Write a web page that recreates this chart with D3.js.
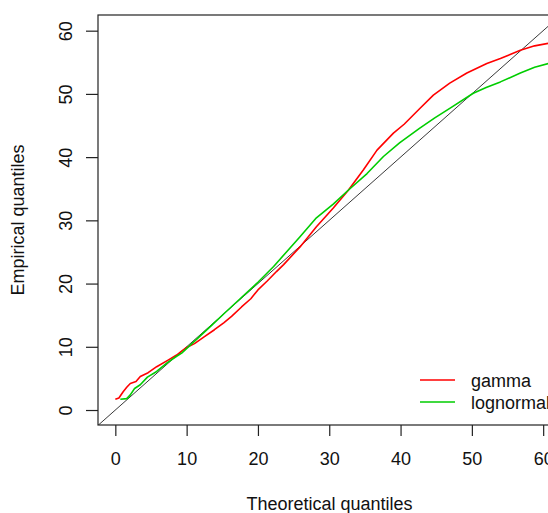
<!DOCTYPE html>
<html>
<head>
<meta charset="utf-8">
<script src="https://cdn.jsdelivr.net/npm/d3@7"></script>
<style>
  html, body { margin: 0; padding: 0; background: #fff; }
  svg { display: block; font-family: "Liberation Sans", Arial, sans-serif; }
</style>
</head>
<body>
<svg id="chart" width="548" height="513"></svg>
<script>
// Q-Q comparison: theoretical vs empirical quantiles for two fitted distributions
const seriesNames = ["gamma", "lognormal"];
const seriesColors = ["#ff0000", "#00cd00"];

// [theoretical, empirical] pairs
const gammaQ = [
  [0.0, 1.7], [0.5, 1.9], [1.1, 2.9], [1.6, 3.6], [2.1, 4.2], [2.9, 4.5], [3.5, 5.3],
  [4.6, 5.9], [5.8, 6.85], [7.4, 7.9], [8.6, 8.7], [9.3, 9.3], [10.0, 9.9], [11.1, 10.5],
  [12.5, 11.6], [13.9, 12.7], [15.2, 13.8], [16.3, 14.8], [17.7, 16.3], [19.0, 17.6],
  [20.0, 19.0], [21.3, 20.4], [22.6, 21.9], [23.6, 23.0], [25.9, 25.8], [28.2, 29.0],
  [30.6, 32.0], [32.7, 34.8], [34.8, 38.0], [36.7, 41.1], [39.0, 43.8], [40.5, 45.2],
  [42.7, 47.7], [44.6, 49.8], [46.9, 51.7], [49.3, 53.3], [52.1, 54.8], [54.0, 55.6],
  [56.8, 56.9], [58.8, 57.6], [60.7, 58.0], [62.5, 58.3]
];
const lognormalQ = [
  [0.7, 1.7], [1.6, 1.8], [2.1, 2.4], [2.7, 3.4], [3.5, 4.0], [4.5, 5.2], [5.8, 6.1],
  [7.3, 7.5], [8.6, 8.5], [9.3, 9.0], [11.5, 11.3], [13.5, 13.4], [15.3, 15.3],
  [17.5, 17.6], [20.0, 20.2], [22.2, 22.7], [24.0, 25.0], [25.9, 27.4], [28.2, 30.4],
  [30.6, 32.6], [32.7, 34.8], [35.3, 37.4], [37.6, 40.1], [39.9, 42.3], [42.7, 44.6],
  [44.8, 46.2], [46.9, 47.7], [50.2, 50.1], [52.0, 51.0], [54.0, 51.9], [56.8, 53.3],
  [58.8, 54.2], [60.7, 54.8], [62.5, 55.2]
];
const xTicks = [0, 10, 20, 30, 40, 50, 60];
const yTicks = [0, 10, 20, 30, 40, 50, 60];

const svg = d3.select("#chart");
const box = { left: 98, top: 15, right: 561, bottom: 425 };

const x = d3.scaleLinear().domain([-2.43, 62.5]).range([box.left, box.right]);
const y = d3.scaleLinear().domain([-2.37, 62.48]).range([box.bottom, box.top]);

svg.append("clipPath").attr("id", "plotclip")
  .append("rect")
  .attr("x", box.left).attr("y", box.top)
  .attr("width", box.right - box.left).attr("height", box.bottom - box.top);

const plot = svg.append("g").attr("clip-path", "url(#plotclip)");

// identity reference line
plot.append("line")
  .attr("x1", x(-10)).attr("y1", y(-10))
  .attr("x2", x(80)).attr("y2", y(80))
  .attr("stroke", "#222").attr("stroke-width", 0.9);

const line = d3.line().x(d => x(d[0])).y(d => y(d[1]));
[gammaQ, lognormalQ].forEach((s, i) => {
  plot.append("path")
    .datum(s)
    .attr("d", line)
    .attr("fill", "none")
    .attr("stroke", seriesColors[i])
    .attr("stroke-width", 1.6)
    .attr("stroke-linejoin", "round");
});

// frame
svg.append("rect")
  .attr("x", box.left).attr("y", box.top)
  .attr("width", box.right - box.left).attr("height", box.bottom - box.top)
  .attr("fill", "none").attr("stroke", "#222").attr("stroke-width", 1.2);

// axes
const xAxis = d3.axisBottom(x).tickValues(xTicks).tickSize(11).tickPadding(16).tickFormat(d3.format("d"));
const gx = svg.append("g").attr("transform", `translate(0,${box.bottom})`).call(xAxis);
gx.select(".domain").remove();
gx.selectAll(".tick line").attr("stroke", "#222").attr("stroke-width", 1.2);
gx.selectAll(".tick text").attr("font-size", 18).attr("fill", "#111")
  .attr("font-family", "Liberation Sans, Arial, sans-serif");

const yAxis = d3.axisLeft(y).tickValues(yTicks).tickSize(12).tickFormat(d3.format("d"));
const gy = svg.append("g").attr("transform", `translate(${box.left},0)`).call(yAxis);
gy.select(".domain").remove();
gy.selectAll(".tick line").attr("stroke", "#222").attr("stroke-width", 1.2);
gy.selectAll(".tick text")
  .attr("font-size", 18).attr("fill", "#111")
  .attr("font-family", "Liberation Sans, Arial, sans-serif")
  .attr("x", null).attr("dy", null)
  .attr("text-anchor", "middle")
  .attr("transform", "translate(-26,0) rotate(-90)");

// axis titles
svg.append("text")
  .attr("x", (box.left + box.right) / 2).attr("y", 510)
  .attr("text-anchor", "middle").attr("font-size", 18).attr("fill", "#111")
  .text("Theoretical quantiles");
svg.append("text")
  .attr("transform", `translate(24,${(box.top + box.bottom) / 2}) rotate(-90)`)
  .attr("text-anchor", "middle").attr("font-size", 18).attr("fill", "#111")
  .text("Empirical quantiles");

// legend
const legend = svg.append("g");
seriesNames.forEach((name, i) => {
  const ly = 380 + i * 22;
  legend.append("line")
    .attr("x1", 420).attr("x2", 455).attr("y1", ly).attr("y2", ly)
    .attr("stroke", seriesColors[i]).attr("stroke-width", 1.6);
  legend.append("text")
    .attr("x", 471).attr("y", ly + 7)
    .attr("font-size", 18).attr("fill", "#111")
    .text(name);
});
</script>
</body>
</html>
